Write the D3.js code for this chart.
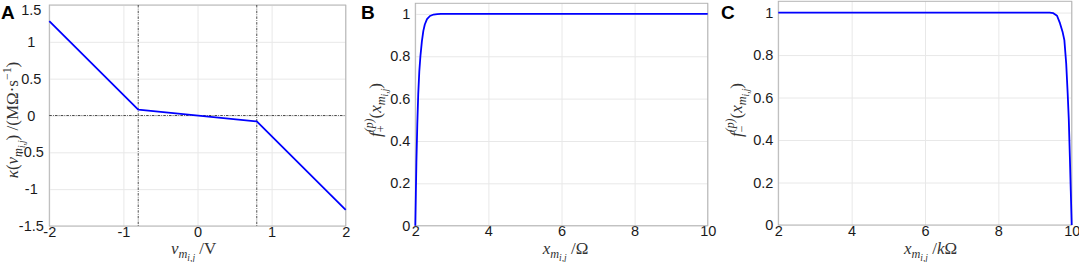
<!DOCTYPE html>
<html>
<head>
<meta charset="utf-8">
<script src="https://cdn.jsdelivr.net/npm/d3@7"></script>
<style>
  body { margin: 0; background: #fff; }
  svg { display: block; }
  .tick text { font-family: "Liberation Sans", Arial, sans-serif; font-size: 14.5px; fill: #1a1a1a; }
  .math { font-family: "Liberation Serif", "DejaVu Serif", serif; fill: #333; }
  .letter { font-family: "Liberation Sans", Arial, sans-serif; font-weight: bold; font-size: 19px; fill: #000; }
</style>
</head>
<body>
<div id="chart"></div>
<script>
// panel A: kappa(v) piecewise linear
const aX = [-2, -0.8, 0.8, 2];
const aY = [1.28, 0.08, -0.08, -1.28];
const aGuideX = [-0.8, 0.8];
const aGuideY = [0];
const aXTicks = [-2, -1, 0, 1, 2];
const aYTicks = [-1.5, -1, -0.5, 0, 0.5, 1, 1.5];

// panel B: f+ window
const bX = [2, 2.015, 2.03, 2.055, 2.08, 2.11, 2.14, 2.18, 2.22, 2.26, 2.32, 2.4, 2.5, 2.6, 2.7, 10];
const bY = [0, 0.15, 0.3, 0.48, 0.62, 0.73, 0.8, 0.87, 0.92, 0.95, 0.975, 0.99, 0.997, 0.999, 1, 1];

// panel C: f- window
const cX = [2, 9.4, 9.5, 9.6, 9.68, 9.75, 9.8, 9.85, 9.89, 9.92, 9.95, 9.975, 10];
const cY = [1, 1, 0.997, 0.985, 0.95, 0.91, 0.87, 0.76, 0.62, 0.5, 0.32, 0.16, 0];

const fTicksX = [2, 4, 6, 8, 10];
const fTicksY = [0, 0.2, 0.4, 0.6, 0.8, 1];

const W = 1079, H = 262;
const svg = d3.select("#chart").append("svg").attr("width", W).attr("height", H);

// math label helper: parts = [text, italic, level, dx]
function mathText(sel, parts, base) {
  const shift = { "0": 0, "-1": 0.25 * base, "-2": 0.42 * base, "1": -0.42 * base };
  const size = { "0": base, "-1": base * 0.72, "-2": base * 0.56, "1": base * 0.7 };
  let cur = 0;
  parts.forEach(([t, it, lv, dx]) => {
    const target = shift[lv];
    sel.append("tspan")
      .attr("dy", target - cur)
      .attr("dx", dx || 0)
      .attr("font-size", size[lv])
      .attr("font-style", it ? "italic" : "normal")
      .text(t);
    cur = target;
  });
}

// place a label so its box centre sits at (cx, cy)
function placeLabel(g, parts, base, cx, cy, rotated) {
  const t = g.append("text").attr("class", "math").attr("x", 0).attr("y", 0);
  mathText(t, parts, base);
  const b = t.node().getBBox();
  const mx = b.x + b.width / 2, my = b.y + b.height / 2;
  if (rotated) {
    t.attr("transform", `translate(${cx},${cy}) rotate(-90) translate(${-mx},${-my})`);
  } else {
    t.attr("transform", `translate(${cx - mx},${cy - my})`);
  }
}

function panel(cfg) {
  const x = d3.scaleLinear().domain(cfg.xDomain).range([cfg.left, cfg.right]);
  const y = d3.scaleLinear().domain(cfg.yDomain).range([cfg.bottom, cfg.top]);
  const g = svg.append("g");

  // grid
  g.append("g").attr("transform", `translate(0,${cfg.bottom})`)
    .call(d3.axisBottom(x).tickValues(cfg.xTicks).tickSize(-(cfg.bottom - cfg.top)).tickFormat(""))
    .call(s => s.select(".domain").remove())
    .call(s => s.selectAll("line").attr("stroke", "#e8e8e8"));
  g.append("g").attr("transform", `translate(${cfg.left},0)`)
    .call(d3.axisLeft(y).tickValues(cfg.yTicks).tickSize(-(cfg.right - cfg.left)).tickFormat(""))
    .call(s => s.select(".domain").remove())
    .call(s => s.selectAll("line").attr("stroke", "#e8e8e8"));

  // tick labels
  g.append("g").attr("transform", `translate(0,${cfg.bottom})`)
    .call(d3.axisBottom(x).tickValues(cfg.xTicks).tickSize(0).tickPadding(0.5).tickFormat(d => String(d)))
    .call(s => s.select(".domain").remove());
  const ya = g.append("g").attr("transform", `translate(${cfg.left},0)`)
    .call(d3.axisLeft(y).tickValues(cfg.yTicks).tickSize(0).tickPadding(cfg.yPad).tickFormat(d => String(d)))
    .call(s => s.select(".domain").remove());
  if (cfg.yCenter) ya.selectAll("text").attr("text-anchor", "middle");
  ya.selectAll(".tick").filter(d => y(d) < 8).select("text").attr("dy", "0.62em");

  // box
  g.append("rect").attr("x", cfg.left).attr("y", cfg.top)
    .attr("width", cfg.right - cfg.left).attr("height", cfg.bottom - cfg.top)
    .attr("fill", "none").attr("stroke", "#b5b5b5").attr("stroke-width", 1);

  // guides
  (cfg.guideX || []).forEach(v => g.append("line")
    .attr("x1", x(v)).attr("x2", x(v)).attr("y1", cfg.top).attr("y2", cfg.bottom)
    .attr("stroke", "#222").attr("stroke-width", 0.8).attr("stroke-dasharray", "2.5,1.2,0.8,1.2"));
  (cfg.guideY || []).forEach(v => g.append("line")
    .attr("x1", cfg.left).attr("x2", cfg.right).attr("y1", y(v)).attr("y2", y(v))
    .attr("stroke", "#222").attr("stroke-width", 0.8).attr("stroke-dasharray", "2.5,1.2,0.8,1.2"));

  // curve
  const line = d3.line().x(d => x(d[0])).y(d => y(d[1]));
  g.append("path").datum(d3.zip(cfg.xs, cfg.ys)).attr("d", line)
    .attr("fill", "none").attr("stroke", "#0000ff").attr("stroke-width", 1.8)
    .attr("stroke-linejoin", "round");

  // labels
  placeLabel(g, cfg.xlabel, 17, cfg.xlX, 251, false);
  placeLabel(g, cfg.ylabel, 17, cfg.ylX, cfg.ylY, true);

  svg.append("text").attr("class", "letter").attr("x", cfg.letterX).attr("y", 19).text(cfg.letter);
}

const sub = [["m", true, -1], ["i,j", true, -2]];

panel({
  left: 49.3, right: 345.7, top: 5, bottom: 226,
  xDomain: [-2, 2], yDomain: [-1.5, 1.5], xTicks: aXTicks, yTicks: aYTicks,
  xs: aX, ys: aY, guideX: aGuideX, guideY: aGuideY,
  yPad: 18, yCenter: true,
  xlabel: [["v", true, 0], ...sub, [" /V", false, 0]], xlX: 194,
  ylabel: [["κ", true, 0], ["(", false, 0], ["v", true, 0], ...sub, [") /(MΩ·s", false, 0], ["−1", false, 1], [")", false, 0]],
  ylX: 13.5, ylY: 120, letter: "A", letterX: 1
});

panel({
  left: 415.3, right: 707.7, top: 3.3, bottom: 225.7,
  xDomain: [2, 10], yDomain: [0, 1.05], xTicks: fTicksX, yTicks: fTicksY,
  xs: bX, ys: bY, yPad: 5,
  xlabel: [["x", true, 0], ...sub, [" /Ω", false, 0]], xlX: 565,
  ylabel: [["f", true, 0], ["+", false, -1], ["(p)", true, 1, -7], ["(", false, 0], ["x", true, 0], ...sub, [")", false, 0]],
  ylX: 376, ylY: 110, letter: "B", letterX: 361
});

panel({
  left: 778.3, right: 1071.7, top: 1.3, bottom: 225,
  xDomain: [2, 10], yDomain: [0, 1.053], xTicks: fTicksX, yTicks: fTicksY,
  xs: cX, ys: cY, yPad: 5,
  xlabel: [["x", true, 0], ...sub, [" /", false, 0], ["k", true, 0], ["Ω", false, 0]], xlX: 930,
  ylabel: [["f", true, 0], ["−", false, -1], ["(p)", true, 1, -7], ["(", false, 0], ["x", true, 0], ...sub, [")", false, 0]],
  ylX: 737, ylY: 110, letter: "C", letterX: 721
});
</script>
</body>
</html>
